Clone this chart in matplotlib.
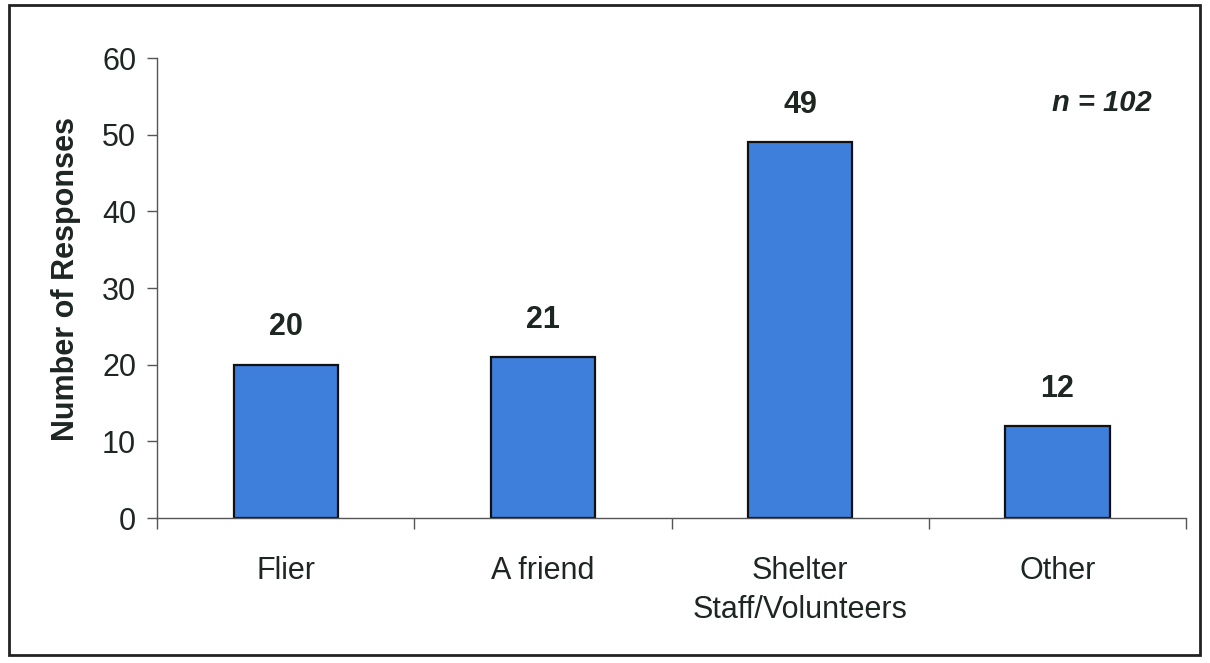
import matplotlib.pyplot as plt
from matplotlib.patches import Rectangle

plt.rcParams['font.family'] = ['Liberation Sans', 'DejaVu Sans']

categories = ['Flier', 'A friend', 'Shelter\nStaff/Volunteers', 'Other']
responses = [20, 21, 49, 12]
y_ticks = [0, 10, 20, 30, 40, 50, 60]
sample_note = 'n = 102'

text_color = '#1e2622'
axis_color = '#555555'

fig = plt.figure(figsize=(12.1, 6.63), dpi=100)
ax = fig.add_axes([0.1298, 0.2187, 0.8504, 0.6938])

x = list(range(len(categories)))
bars = ax.bar(x, responses, width=0.405, color='#3f7fdc',
              edgecolor='#111111', linewidth=1.6, zorder=2)

for xi, v in zip(x, responses):
    ax.annotate(str(v), (xi, v), xytext=(0, 16), textcoords='offset points',
                ha='center', va='bottom', fontsize=22, fontweight='bold',
                color=text_color)

ax.set_xlim(-0.5, len(categories) - 0.5)
ax.set_ylim(0, 60)
ax.set_yticks(y_ticks)
ax.tick_params(axis='y', labelsize=22, length=7, width=1, color=axis_color,
               pad=8, labelcolor=text_color)

# category ticks sit on the boundaries between groups
ax.set_xticks([i + 0.5 for i in range(-1, len(categories))])
ax.set_xticklabels([])
ax.tick_params(axis='x', length=8, width=1, color=axis_color)
ax.set_xticks(x, minor=True)
ax.set_xticklabels(categories, minor=True, fontsize=22, color=text_color,
                   linespacing=1.4, va='top')
ax.tick_params(axis='x', which='minor', length=0, pad=27)

for side in ['top', 'right']:
    ax.spines[side].set_visible(False)
for side in ['left', 'bottom']:
    ax.spines[side].set_color(axis_color)
    ax.spines[side].set_linewidth(1)

ax.set_ylabel('Number of Responses', fontsize=22, fontweight='bold',
              color=text_color)
ax.yaxis.set_label_coords(-0.074, 0.52)

fig.text(1152 / 1210, 1 - 103 / 663, sample_note,
         ha='right', va='center', fontsize=21, fontweight='bold',
         fontstyle='italic', color=text_color)

fig.patches.append(Rectangle((9 / 1210, 1 - 655 / 663), 1191 / 1210, 650 / 663,
                             transform=fig.transFigure, fill=False,
                             edgecolor='#222222', linewidth=2))

fig.savefig('out.png', dpi=100)
